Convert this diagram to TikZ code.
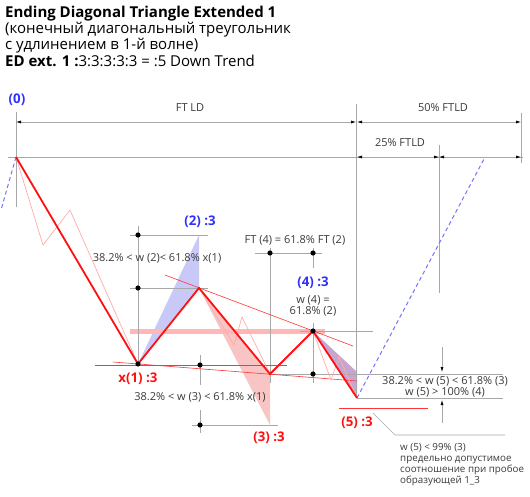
\documentclass[tikz,border=0pt]{standalone}
\usepackage{fontspec}
\setmainfont{Open Sans}
\usetikzlibrary{arrows.meta, positioning, calc}
\definecolor{edred}{HTML}{FF1010}
\definecolor{edblue}{HTML}{3030FF}
\definecolor{edgray}{HTML}{A8A8A8}
\definecolor{edtext}{HTML}{3A3A3A}
\definecolor{edpink}{HTML}{F9C4C4}
\definecolor{edshadeblue}{HTML}{C9C9F7}
\definecolor{edshadeviolet}{HTML}{C6A6CF}

\begin{document}
\begin{tikzpicture}[x=1pt, y=-1pt,
    guide/.style={draw=edgray, line width=0.6pt},
    dimline/.style={draw=edgray, line width=0.6pt,
        {Latex[length=5pt,width=3pt,color=black]}-{Latex[length=5pt,width=3pt,color=black]}},
    wave/.style={draw=edred, line width=1.8pt, line join=miter},
    subwave/.style={draw=edred!35, line width=0.7pt},
    trend/.style={draw=edred!85, line width=0.6pt},
    lbl/.style={font=\fontsize{11}{11}\selectfont, text=edtext, inner sep=0pt},
    wavelbl/.style={font=\bfseries\fontsize{13.3}{14}\selectfont, inner sep=0pt}]
\useasboundingbox (0,0) rectangle (530,497);
% Title
\node[anchor=base west, inner sep=0pt, font=\bfseries\fontsize{15}{17}\selectfont] (title1) at (5,17.3)
    {Ending Diagonal Triangle Extended 1};
\node[anchor=base west, inner sep=0pt, font=\fontsize{15}{17}\selectfont] (title2) at (5,33.5)
    {(конечный диагональный треугольник};
\node[anchor=base west, inner sep=0pt, font=\fontsize{15}{17}\selectfont] (title3) at (5,50)
    {с удлинением в 1-й волне)};
\node[anchor=base west, inner sep=0pt, font=\fontsize{15}{17}\selectfont] (title4) at (5,66.7)
    {\textbf{ED ext. 1 :}3:3:3:3:3 = :5 Down Trend};
% Wave points
\coordinate (p0) at (16,157);
\coordinate (p1) at (138,364);
\coordinate (p2) at (199,288);
\coordinate (p3) at (270,374);
\coordinate (p4) at (313,331);
\coordinate (p5) at (357,398);
% Shaded ratios
\fill[edshadeblue] (p1) -- (199,235) -- (p2) -- cycle;
\fill[edpink] (p2) -- (270,425) -- (p3) -- cycle;
\fill[edshadeviolet] (p4) -- (357,372) -- (p5) -- cycle;
\draw[edred!30, line width=5pt] (130,331) -- (325,331);
% Guides
\draw[guide] (8,157) -- (523,157);
\draw[guide] (16,112) -- (16,207);
\draw[guide] (356,104) -- (356,397);
\draw[guide] (439,145) -- (439,293);
\draw[guide] (521,113) -- (521,163);
\draw[guide] (138,226) -- (p1);
\draw[guide] (130,235) -- (208,235);
\draw[guide] (130,288) -- (208,288);
\draw[guide] (200,355) -- (200,385);
\draw[guide] (200,410) -- (200,433);
\draw[guide] (192,425) -- (278,425);
\draw[guide] (270,248) -- (270,383);
\draw[guide] (313,248) -- (313,268);
\draw[guide] (313,323) -- (313,383);
\draw[guide] (255,253) -- (322,253);
\draw[guide] (300,331) -- (373,331);
\draw[guide] (p3) -- (503,374);
\draw[guide] (p5) -- (503,398);
\draw[guide] (373,413) -- (395,435) -- (505,435);
% Dimensions
\draw[dimline] (16,122) -- (356,122);
\draw[dimline] (357,122) -- (521,122);
\draw[dimline] (357,157) -- (439,157);
\draw[dimline] (439,157) -- (521,157);
\draw[guide, -{Latex[length=5pt,width=3pt,color=black]}] (442,347) -- (442,372);
\draw[guide, -{Latex[length=5pt,width=3pt,color=black]}] (442,423) -- (442,400);
% Trend lines
\draw[trend] (165,275) -- (353,346);
\draw[trend] (113,362) -- (357,381);
\draw[trend] (95,365) -- (287,365);
\draw[trend] (339,408) -- (428,408);
% Sub-waves
\draw[subwave] (p0) -- (43,245) -- (70,210) -- (p1);
\draw[subwave] (p2) -- (234,345) -- (242,317) -- (p3);
\draw[subwave] (p4) -- (331,380) -- (339,357) -- (p5);
% Extension lines
\draw[blue!55, line width=1pt, dash pattern=on 4pt off 3pt] (p5) -- (484,159);
\draw[blue!55, line width=1pt, dash pattern=on 4pt off 3pt] (p0) -- (1,210);
% Main wave
\draw[wave] (p0) -- (p1) -- (p2) -- (p3) -- (p4) -- (p5);
% Dots
\foreach \x/\y in {138/235, 138/288, 138/364, 200/365, 200/425,
                   270/253, 313/253, 313/331, 313/374} {
    \fill[black] (\x,\y) circle (2.6);
}
% Labels
\node[wavelbl, text=edblue] (l0) at (17,100) {(0)};
\node[lbl] (ftld) at (190,108) {FT LD};
\node[lbl] (ftld50) at (443,108) {50\% FTLD};
\node[lbl] (ftld25) at (400,143) {25\% FTLD};
\node[lbl] (w2) at (157,258) {38.2\% < w (2)< 61.8\% x(1)};
\node[wavelbl, text=edblue] (l2) at (200,222) {(2) :3};
\node[lbl] (ft4) at (295,240) {FT (4) = 61.8\% FT (2)};
\node[wavelbl, text=edblue] (l4) at (313,283) {(4) :3};
\node[lbl, align=center] (w4) at (313,306) {w (4) =\\61.8\% (2)};
\node[wavelbl, text=edred] (l1) at (138,379) {x(1) :3};
\node[lbl] (w3) at (200,397) {38.2\% < w (3) < 61.8\% x(1)};
\node[wavelbl, text=edred] (l3) at (269,438) {(3) :3};
\node[wavelbl, text=edred] (l5) at (357,423) {(5) :3};
\node[lbl, align=center] (w5) at (445,387) {38.2\% < w (5) < 61.8\% (3)\\w (5) > 100\% (4)};
\node[lbl, anchor=north west, align=left, font=\fontsize{9.8}{11}\selectfont] (note) at (400,443)
    {w (5) < 99\% (3)\\предельно допустимое\\соотношение при пробое\\образующей 1\_3};
\end{tikzpicture}
\end{document}
